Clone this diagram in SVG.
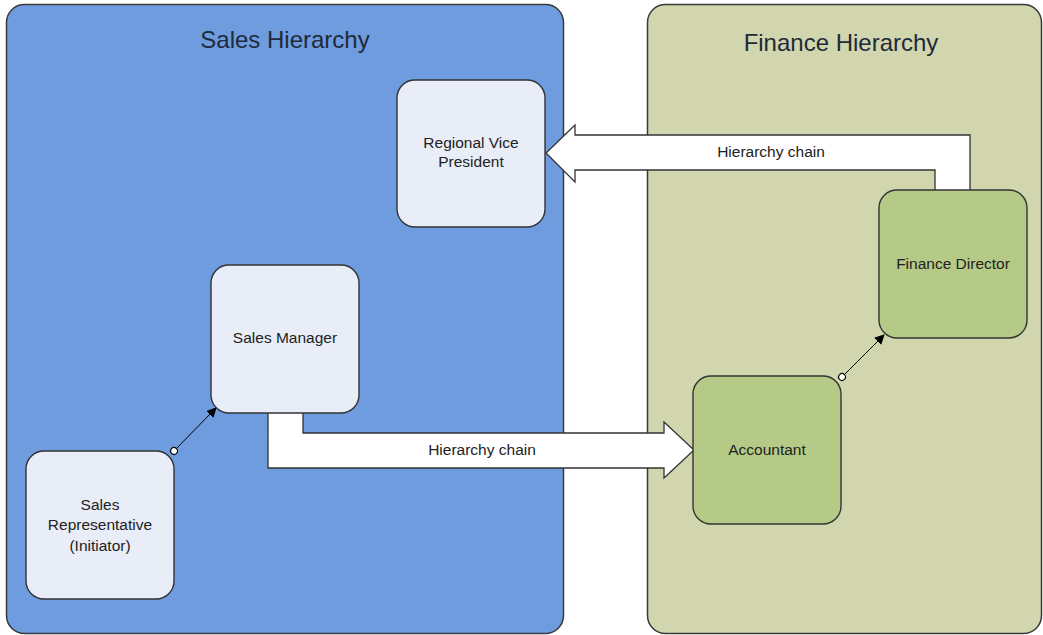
<svg xmlns="http://www.w3.org/2000/svg" width="1043" height="635" viewBox="0 0 1043 635">
  <defs>
    <marker id="tri" viewBox="0 0 10 10" refX="9" refY="5" markerWidth="10" markerHeight="10" markerUnits="userSpaceOnUse" orient="auto">
      <path d="M0,0 L10,5 L0,10 Z" fill="#000"/>
    </marker>
    <marker id="circ" viewBox="0 0 10 10" refX="5" refY="5" markerWidth="9" markerHeight="9" markerUnits="userSpaceOnUse" orient="auto">
      <circle cx="5" cy="5" r="3.8" fill="#fff" stroke="#000" stroke-width="1.2"/>
    </marker>
  </defs>
  <style>
    .container { stroke: #3a3a3a; stroke-width: 1.5; }
    .sales { fill: #6f9bdf; }
    .finance { fill: #d1d6ae; }
    .node { stroke: #333; stroke-width: 1.4; }
    .light { fill: #e8edf7; }
    .green { fill: #b5ca86; }
    .title { font-family: "Liberation Sans", Arial, sans-serif; font-size: 24px; fill: #1f2a3a; text-anchor: middle; }
    .label { font-family: "Liberation Sans", Arial, sans-serif; font-size: 15.5px; fill: #222; text-anchor: middle; }
    .block { fill: #fff; stroke: #333; stroke-width: 1.3; }
    .link { stroke: #000; stroke-width: 1; fill: none; }
  </style>
  <rect width="1043" height="635" fill="#fff"/>

  <g id="sales-hierarchy">
    <rect class="container sales" x="6.5" y="4.5" width="557" height="629" rx="18"/>
    <text class="title" x="285" y="48">Sales Hierarchy</text>
  </g>
  <g id="finance-hierarchy">
    <rect class="container finance" x="647.5" y="4.5" width="394" height="629" rx="18"/>
    <text class="title" x="841" y="51">Finance Hierarchy</text>
  </g>

  <g id="connectors">
    <path class="block" d="M268,413 L268,468 L664,468 L664,478 L694,450 L664,422 L664,433 L303,433 L303,413"/>
    <text class="label" x="482" y="455">Hierarchy chain</text>
    <path class="block" d="M970,190 L970,135 L575,135 L575,125 L546,153 L575,182 L575,170 L935,170 L935,190"/>
    <text class="label" x="771" y="157">Hierarchy chain</text>
    <line class="link" x1="174" y1="451" x2="216" y2="408" marker-start="url(#circ)" marker-end="url(#tri)"/>
    <line class="link" x1="842" y1="377" x2="884" y2="335" marker-start="url(#circ)" marker-end="url(#tri)"/>
  </g>

  <g id="regional-vice-president">
    <rect class="node light" x="397" y="80" width="148" height="147" rx="18"/>
    <text class="label" x="471" y="148">Regional Vice</text>
    <text class="label" x="471" y="167">President</text>
  </g>
  <g id="sales-manager">
    <rect class="node light" x="211" y="265" width="148" height="148" rx="18"/>
    <text class="label" x="285" y="343">Sales Manager</text>
  </g>
  <g id="sales-representative">
    <rect class="node light" x="26" y="451" width="148" height="148" rx="18"/>
    <text class="label" x="100" y="510">Sales</text>
    <text class="label" x="100" y="530">Representative</text>
    <text class="label" x="100" y="551">(Initiator)</text>
  </g>
  <g id="accountant">
    <rect class="node green" x="693" y="376" width="148" height="148" rx="18"/>
    <text class="label" x="767" y="455">Accountant</text>
  </g>
  <g id="finance-director">
    <rect class="node green" x="879" y="190" width="148" height="148" rx="18"/>
    <text class="label" x="953" y="269">Finance Director</text>
  </g>
</svg>
